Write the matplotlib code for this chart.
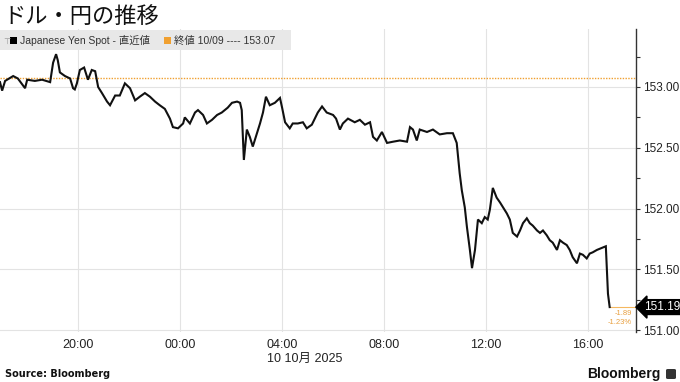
import matplotlib
matplotlib.use("Agg")
import matplotlib.pyplot as plt
import matplotlib.dates as mdates
import matplotlib.transforms as mtransforms
from matplotlib.patches import Rectangle, FancyBboxPatch
from matplotlib.ticker import MultipleLocator, FuncFormatter
import pandas as pd

# ---------------- data ----------------
times = [
    "2025-10-09 16:56", "2025-10-09 17:01", "2025-10-09 17:08", "2025-10-09 17:27", "2025-10-09 17:38",
    "2025-10-09 17:55", "2025-10-09 18:00", "2025-10-09 18:18", "2025-10-09 18:35", "2025-10-09 18:54",
    "2025-10-09 19:01", "2025-10-09 19:08", "2025-10-09 19:12", "2025-10-09 19:17", "2025-10-09 19:29",
    "2025-10-09 19:41", "2025-10-09 19:48", "2025-10-09 19:52", "2025-10-09 19:57", "2025-10-09 20:04",
    "2025-10-09 20:14", "2025-10-09 20:23", "2025-10-09 20:32", "2025-10-09 20:40", "2025-10-09 20:47",
    "2025-10-09 20:56", "2025-10-09 21:08", "2025-10-09 21:15", "2025-10-09 21:27", "2025-10-09 21:38",
    "2025-10-09 21:50", "2025-10-09 22:02", "2025-10-09 22:14", "2025-10-09 22:25", "2025-10-09 22:37",
    "2025-10-09 22:49", "2025-10-09 23:01", "2025-10-09 23:12", "2025-10-09 23:24", "2025-10-09 23:36",
    "2025-10-09 23:43", "2025-10-09 23:55", "2025-10-10 00:07", "2025-10-10 00:11", "2025-10-10 00:23",
    "2025-10-10 00:35", "2025-10-10 00:42", "2025-10-10 00:54", "2025-10-10 01:03", "2025-10-10 01:15",
    "2025-10-10 01:27", "2025-10-10 01:38", "2025-10-10 01:52", "2025-10-10 02:02", "2025-10-10 02:14",
    "2025-10-10 02:21", "2025-10-10 02:25", "2025-10-10 02:30", "2025-10-10 02:37", "2025-10-10 02:44",
    "2025-10-10 02:51", "2025-10-10 03:01", "2025-10-10 03:08", "2025-10-10 03:15", "2025-10-10 03:22",
    "2025-10-10 03:31", "2025-10-10 03:43", "2025-10-10 03:55", "2025-10-10 04:00", "2025-10-10 04:07",
    "2025-10-10 04:18", "2025-10-10 04:25", "2025-10-10 04:37", "2025-10-10 04:49", "2025-10-10 04:58",
    "2025-10-10 05:10", "2025-10-10 05:24", "2025-10-10 05:34", "2025-10-10 05:45", "2025-10-10 06:00",
    "2025-10-10 06:07", "2025-10-10 06:16", "2025-10-10 06:23", "2025-10-10 06:35", "2025-10-10 06:51",
    "2025-10-10 07:03", "2025-10-10 07:15", "2025-10-10 07:27", "2025-10-10 07:34", "2025-10-10 07:43",
    "2025-10-10 07:55", "2025-10-10 08:07", "2025-10-10 08:21", "2025-10-10 08:37", "2025-10-10 08:54",
    "2025-10-10 09:01", "2025-10-10 09:08", "2025-10-10 09:17", "2025-10-10 09:24", "2025-10-10 09:41",
    "2025-10-10 09:55", "2025-10-10 10:11", "2025-10-10 10:28", "2025-10-10 10:42", "2025-10-10 10:51",
    "2025-10-10 10:58", "2025-10-10 11:03", "2025-10-10 11:10", "2025-10-10 11:15", "2025-10-10 11:22",
    "2025-10-10 11:27", "2025-10-10 11:34", "2025-10-10 11:41", "2025-10-10 11:50", "2025-10-10 11:57",
    "2025-10-10 12:04", "2025-10-10 12:09", "2025-10-10 12:16", "2025-10-10 12:25", "2025-10-10 12:33",
    "2025-10-10 12:40", "2025-10-10 12:49", "2025-10-10 12:56", "2025-10-10 13:03", "2025-10-10 13:13",
    "2025-10-10 13:20", "2025-10-10 13:27", "2025-10-10 13:36", "2025-10-10 13:43", "2025-10-10 13:50",
    "2025-10-10 14:00", "2025-10-10 14:07", "2025-10-10 14:14", "2025-10-10 14:23", "2025-10-10 14:30",
    "2025-10-10 14:37", "2025-10-10 14:47", "2025-10-10 14:54", "2025-10-10 15:01", "2025-10-10 15:10",
    "2025-10-10 15:17", "2025-10-10 15:24", "2025-10-10 15:34", "2025-10-10 15:41", "2025-10-10 15:48",
    "2025-10-10 15:57", "2025-10-10 16:04", "2025-10-10 16:11", "2025-10-10 16:21", "2025-10-10 16:28",
    "2025-10-10 16:35", "2025-10-10 16:42", "2025-10-10 16:47", "2025-10-10 16:51",
]
prices = [
    153.04, 152.97, 153.05, 153.09, 153.07,
    152.99, 153.06, 153.05, 153.06, 153.04,
    153.20, 153.27, 153.22, 153.12, 153.09,
    153.07, 152.99, 152.98, 153.03, 153.14,
    153.16, 153.06, 153.14, 153.13, 153.00,
    152.95, 152.88, 152.85, 152.93, 152.93,
    153.03, 152.99, 152.89, 152.92, 152.95,
    152.92, 152.88, 152.85, 152.82, 152.74,
    152.67, 152.66, 152.70, 152.75, 152.70,
    152.79, 152.81, 152.77, 152.70, 152.73,
    152.77, 152.79, 152.83, 152.87, 152.88,
    152.87, 152.81, 152.40, 152.65, 152.59,
    152.51, 152.62, 152.70, 152.79, 152.92,
    152.85, 152.87, 152.91, 152.83, 152.71,
    152.66, 152.70, 152.70, 152.71, 152.66,
    152.69, 152.79, 152.84, 152.79, 152.77,
    152.74, 152.65, 152.70, 152.74, 152.71,
    152.73, 152.69, 152.71, 152.59, 152.56,
    152.63, 152.54, 152.55, 152.56, 152.55,
    152.67, 152.65, 152.56, 152.65, 152.63,
    152.65, 152.61, 152.62, 152.62, 152.54,
    152.29, 152.15, 152.01, 151.85, 151.66,
    151.51, 151.66, 151.91, 151.88, 151.93,
    151.91, 151.99, 152.17, 152.09, 152.05,
    152.01, 151.96, 151.91, 151.80, 151.77,
    151.82, 151.88, 151.92, 151.88, 151.86,
    151.82, 151.80, 151.82, 151.78, 151.74,
    151.72, 151.66, 151.74, 151.72, 151.70,
    151.66, 151.60, 151.55, 151.63, 151.62,
    151.59, 151.63, 151.64, 151.66, 151.67,
    151.68, 151.69, 151.30, 151.19,
]
prev_close = 153.07
last_price = 151.19
change_text = "-1.89"
pct_text = "-1.23%"
y_ticks = [151.00, 151.50, 152.00, 152.50, 153.00]
x_tick_times = ["2025-10-09 20:00", "2025-10-10 00:00", "2025-10-10 04:00",
                "2025-10-10 08:00", "2025-10-10 12:00", "2025-10-10 16:00"]
x_range = ["2025-10-09 16:56", "2025-10-10 17:53"]
y_range = [150.985, 153.477]

title = "ドル・円の推移"
legend_series = "Japanese Yen Spot - 直近値"
legend_close = "終値 10/09 ---- 153.07"
date_label = "10 10月 2025"

# ---------------- plot ----------------
plt.rcParams['font.family'] = ['Liberation Sans', 'Noto Sans CJK JP']
t = mdates.date2num(pd.to_datetime(times).to_pydatetime())
xr = mdates.date2num(pd.to_datetime(x_range).to_pydatetime())
xt = mdates.date2num(pd.to_datetime(x_tick_times).to_pydatetime())

W, H = 680, 382
fig = plt.figure(figsize=(W / 100, H / 100), dpi=100)
ax = fig.add_axes([0, 1 - 332 / H, 636 / W, (332 - 29) / H])

ax.set_xlim(xr[0], xr[1])
ax.set_ylim(*y_range)

grid_c = "#e3e3e3"
for yv in y_ticks:
    ax.axhline(yv, color=grid_c, lw=0.8, zorder=0)
for xv in xt:
    ax.axvline(xv, color=grid_c, lw=0.8, zorder=0)

ax.axhline(prev_close, color="#f0a030", lw=1.0, ls=(0, (1, 1)), zorder=2)
ax.plot(t, prices, color="#111111", lw=1.5, solid_joinstyle="miter", zorder=3)
ax.plot([t[-1], xr[1]], [last_price, last_price], color="#f5b860", lw=0.8, zorder=2)

# axes styling
for s in ["left", "top", "bottom"]:
    ax.spines[s].set_visible(False)
ax.spines["right"].set_color("#333333")
ax.spines["right"].set_linewidth(1.0)
ax.yaxis.tick_right()
ax.set_yticks(y_ticks)
ax.yaxis.set_minor_locator(MultipleLocator(0.25))
ax.yaxis.set_major_formatter(FuncFormatter(lambda v, p: f"{v:.2f}"))
ax.tick_params(axis="y", which="both", direction="out", length=3, width=0.8,
               color="#333333", labelsize=8.5, labelcolor="#222222", pad=2)
ax.set_xticks(xt)
ax.xaxis.set_major_formatter(mdates.DateFormatter("%H:%M"))
ax.tick_params(axis="x", length=0, labelsize=9, labelcolor="#222222", pad=5)

# last price tag
blend = mtransforms.blended_transform_factory(ax.transAxes, ax.transData)
ax.text(1.012, last_price, f"{last_price:.2f}", transform=blend, color="white",
        fontsize=8.5, va="center", ha="left", zorder=5, clip_on=False,
        bbox=dict(boxstyle="larrow,pad=0.12", fc="black", ec="black"))
ax.annotate(change_text, xy=(0.994, last_price), xycoords=blend, xytext=(0, -4.5),
            textcoords="offset points", ha="right", va="center", fontsize=5.5,
            color="#e8a040", annotation_clip=False)
ax.annotate(pct_text, xy=(0.994, last_price), xycoords=blend, xytext=(0, -11),
            textcoords="offset points", ha="right", va="center", fontsize=5.5,
            color="#e8a040", annotation_clip=False)

# date label under 04:00
ax.annotate(date_label, xy=(xt[2], 0),
            xycoords=mtransforms.blended_transform_factory(ax.transData, ax.transAxes),
            xytext=(-11, -15), textcoords="offset points", ha="left", va="top",
            fontsize=9, color="#222222", annotation_clip=False)

# legend bar
fig.patches.append(Rectangle((0, 1 - 50 / H), 291 / W, 20 / H, transform=fig.transFigure,
                             facecolor="#e8e8e8", edgecolor="none", zorder=4))
fig.text(3 / W, 1 - 41 / H, "⊤", fontsize=6, color="#999999", va="center", ha="left", zorder=5,
         family=["DejaVu Sans"])
fig.patches.append(Rectangle((10 / W, 1 - 44 / H), 7 / W, 7 / H, transform=fig.transFigure,
                             facecolor="black", edgecolor="none", zorder=5))
fig.text(20 / W, 1 - 40.5 / H, legend_series, fontsize=7.5, color="#333333", va="center",
         ha="left", zorder=5)
fig.patches.append(Rectangle((164 / W, 1 - 44 / H), 7 / W, 7 / H, transform=fig.transFigure,
                             facecolor="#f0a030", edgecolor="none", zorder=5))
fig.text(174 / W, 1 - 40.5 / H, legend_close, fontsize=7.5, color="#333333", va="center",
         ha="left", zorder=5)

# title and footer
fig.text(3 / W, 1 - 16 / H, title, fontsize=16, color="#111111", va="center", ha="left",
         family=["Noto Sans CJK JP", "DejaVu Sans"])
fig.text(5 / W, 1 - 374 / H, "Source: Bloomberg", fontsize=7, fontweight="bold",
         color="#111111", va="center", ha="left", family=["DejaVu Sans"])
fig.text(661 / W, 1 - 374 / H, "Bloomberg", fontsize=10, fontweight="bold",
         color="#111111", va="center", ha="right", family=["Liberation Sans"])
fig.patches.append(FancyBboxPatch((666 / W, 1 - 379 / H), 10 / W, 10 / H,
                                  boxstyle="round,pad=0,rounding_size=0.003",
                                  transform=fig.transFigure, facecolor="#333333",
                                  edgecolor="none"))

fig.savefig("out.png", dpi=100)
